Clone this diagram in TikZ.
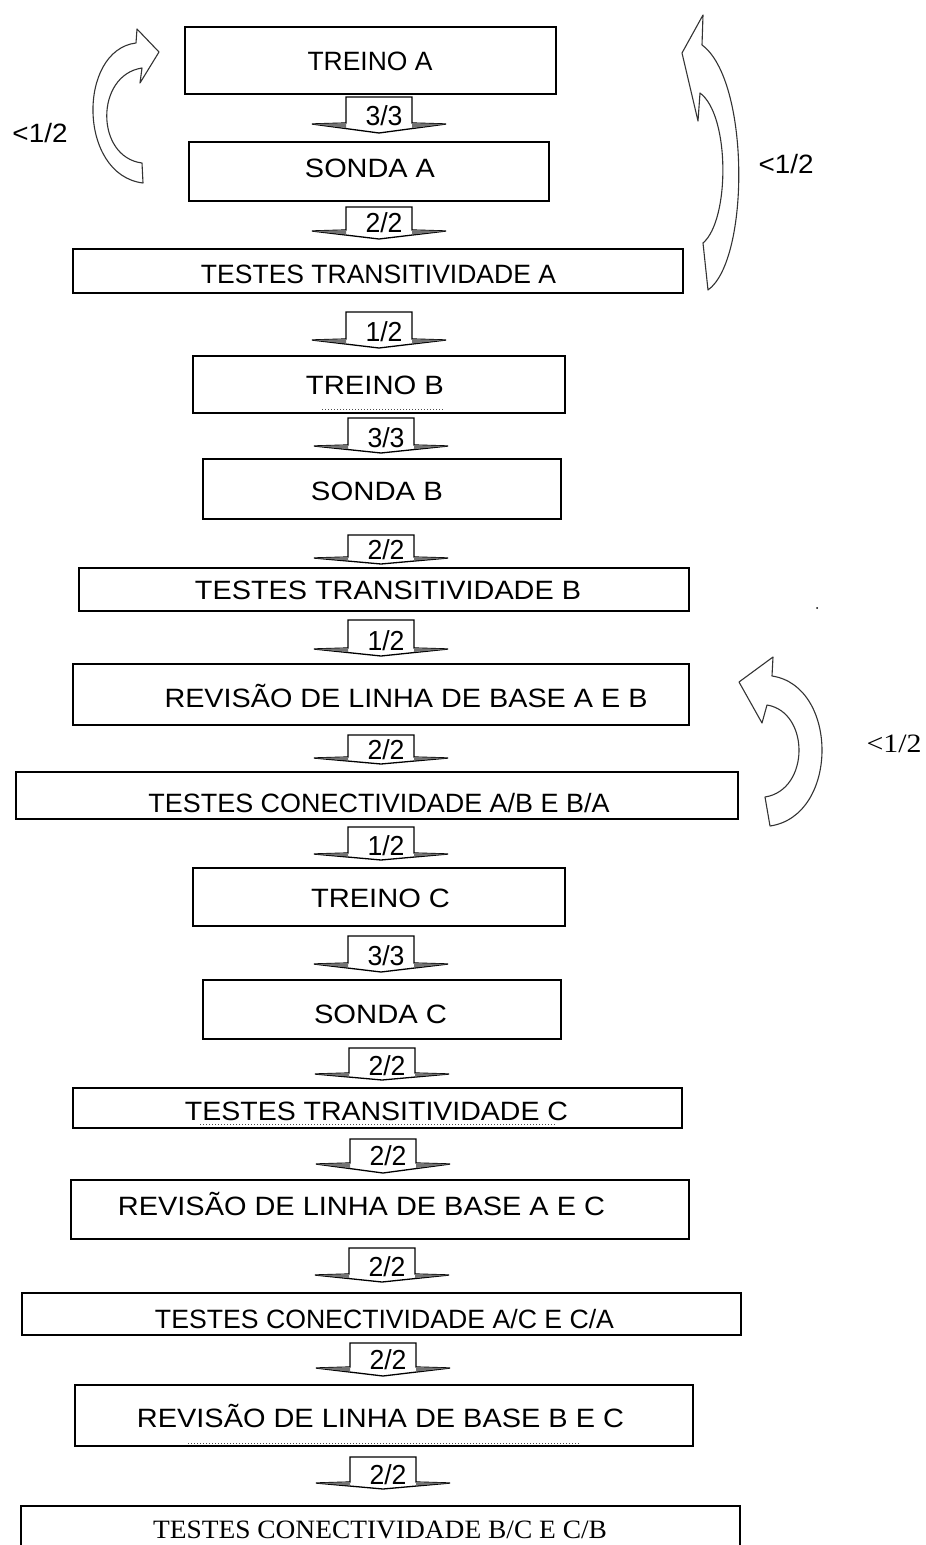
\documentclass[tikz,border=0pt]{standalone}
\usepackage{fontspec}
\setmainfont{Liberation Sans}
\newfontfamily\serifz{Liberation Serif}
\usepackage{graphicx}
\usetikzlibrary{fit}
\newcommand\fitw[2]{\resizebox{#1pt}{\height}{#2}}
\tikzset{
 box/.style={draw=black, line width=1.5pt, inner sep=0pt, outer sep=0pt, fill=white},
 txt/.style={anchor=base, inner sep=0pt, font=\fontsize{26.5pt}{30pt}\selectfont},
 blockarr/.style={draw=black, line width=1.3pt, fill=white, line join=miter},
 wingfill/.style={fill=black!55},
 arrlbl/.style={anchor=base, inner sep=0pt, font=\fontsize{27.5pt}{30pt}\selectfont},
 curvarr/.style={draw=black!80, line width=1.1pt, fill=white, line join=round},
 artifact/.style={draw=black!70, dotted, line width=1pt}
}
\newcommand\barrow[6]{%
  \draw[blockarr] (#2-33,#3) -- (#2-33,#4) -- (#2-67,#4+1) -- (#2,#5) -- (#2+67,#4+1) -- (#2+33,#4) -- (#2+33,#3) -- cycle;
  \fill[wingfill] (#2-33,#4) -- (#2-67,#4+1) -- (#2-33,{#4+0.5*(#5-#4)}) -- cycle;
  \fill[wingfill] (#2+33,#4) -- (#2+67,#4+1) -- (#2+33,{#4+0.5*(#5-#4)}) -- cycle;
  \node[arrlbl] (#1) at (#2+5,#4+2) {\fitw{37}{#6}};
}
\begin{document}
\begin{tikzpicture}[x=1pt, y=-1pt]
\useasboundingbox (0,0) rectangle (926,1545);
\clip (0,0) rectangle (926,1545);
\fill[white] (0,0) rectangle (926,1545);

% boxes
\node[box, fit={(185,27)(556,94)}] (b1) {};
\node[box, fit={(189,142)(549,201)}] (b2) {};
\node[box, fit={(73,249)(683,293)}] (b3) {};
\node[box, fit={(193,356)(565,413)}] (b4) {};
\node[box, fit={(203,459)(561,519)}] (b5) {};
\node[box, fit={(79,568)(689,611)}] (b6) {};
\node[box, fit={(73,664)(689,725)}] (b7) {};
\node[box, fit={(16,772)(738,819)}] (b8) {};
\node[box, fit={(193,868)(565,926)}] (b9) {};
\node[box, fit={(203,980)(561,1039)}] (b10) {};
\node[box, fit={(73,1088)(682,1128)}] (b11) {};
\node[box, fit={(71,1180)(689,1239)}] (b12) {};
\node[box, fit={(22,1293)(741,1335)}] (b13) {};
\node[box, fit={(75,1385)(693,1446)}] (b14) {};
\node[box, fit={(21,1506)(740,1575)}] (b15) {};

% texts
\node[txt] (t1) at (370,70) {\fitw{125}{TREINO A}};
\node[txt] (t2) at (370,177) {\fitw{130}{SONDA A}};
\node[txt] (t3) at (378.5,283) {\fitw{355}{TESTES TRANSITIVIDADE A}};
\node[txt] (t4) at (375,394) {\fitw{138}{TREINO B}};
\node[txt] (t5) at (377,500) {\fitw{132}{SONDA B}};
\node[txt] (t6) at (388,599) {\fitw{386}{TESTES TRANSITIVIDADE B}};
\node[txt] (t7) at (406,707) {\fitw{483}{REVISÃO DE LINHA DE BASE A E B}};
\node[txt] (t8) at (379,812) {\fitw{461}{TESTES CONECTIVIDADE A/B E B/A}};
\node[txt] (t9) at (380.5,907) {\fitw{139}{TREINO C}};
\node[txt] (t10) at (380.5,1023) {\fitw{133}{SONDA C}};
\node[txt] (t11) at (376.5,1120) {\fitw{383}{TESTES TRANSITIVIDADE C}};
\node[txt] (t12) at (361.5,1215) {\fitw{487}{REVISÃO DE LINHA DE BASE A E C}};
\node[txt] (t13) at (384.5,1328) {\fitw{459}{TESTES CONECTIVIDADE A/C E C/A}};
\node[txt] (t14) at (380.5,1427) {\fitw{487}{REVISÃO DE LINHA DE BASE B E C}};
\node[txt, font=\serifz\fontsize{26.5pt}{30pt}\selectfont] (t15) at (380,1538) {\fitw{454}{TESTES CONECTIVIDADE B/C E C/B}};

% scan artifacts
\draw[artifact] (322,409) -- (443,409);
\draw[artifact] (200,1124) -- (555,1124);
\draw[artifact] (188,1443) -- (579,1443);
\fill (817,608) circle (1);

% block arrows
\barrow{a1}{379}{97}{123}{133}{3/3}
\barrow{a2}{379}{207}{230}{239}{2/2}
\barrow{a3}{379}{312}{339}{348}{1/2}
\barrow{a4}{381}{418}{445}{453}{3/3}
\barrow{a5}{381}{535}{557}{564}{2/2}
\barrow{a6}{381}{620}{648}{656}{1/2}
\barrow{a7}{381}{735}{757}{764}{2/2}
\barrow{a8}{381}{827}{853}{860}{1/2}
\barrow{a9}{381}{936}{963}{972}{3/3}
\barrow{a10}{382}{1048}{1073}{1080}{2/2}
\barrow{a11}{383}{1139}{1163}{1173}{2/2}
\barrow{a12}{382}{1248}{1274}{1282}{2/2}
\barrow{a13}{383}{1343}{1367}{1376}{2/2}
\barrow{a14}{383}{1457}{1482}{1489}{2/2}

% curved loop arrows
\draw[curvarr] (143,183) .. controls (77.5,175) and (77.5,50) .. (136,43) -- (137,29) -- (159,52) -- (140,83) -- (142,68) .. controls (95,75) and (95,157) .. (142,163) -- cycle;
\draw[curvarr] (703,15) -- (682,53) -- (698,121) -- (700,93) .. controls (730,115) and (730,220) .. (703,243) -- (708,290) .. controls (750,260) and (750,80) .. (702,45) -- cycle;
\draw[curvarr] (773,657) -- (739,682) -- (762,723) -- (767,705) .. controls (810,712) and (810,790) .. (765,797) -- (770,826) .. controls (839,816) and (839,686) .. (772,676) -- cycle;

% loop labels
\node[txt] (r1) at (40,142) {\fitw{55}{<1/2}};
\node[txt] (r2) at (786,173) {\fitw{55}{<1/2}};
\node[txt, font=\serifz\fontsize{26.5pt}{30pt}\selectfont] (r3) at (894,752) {\fitw{55}{<1/2}};
\end{tikzpicture}
\end{document}
